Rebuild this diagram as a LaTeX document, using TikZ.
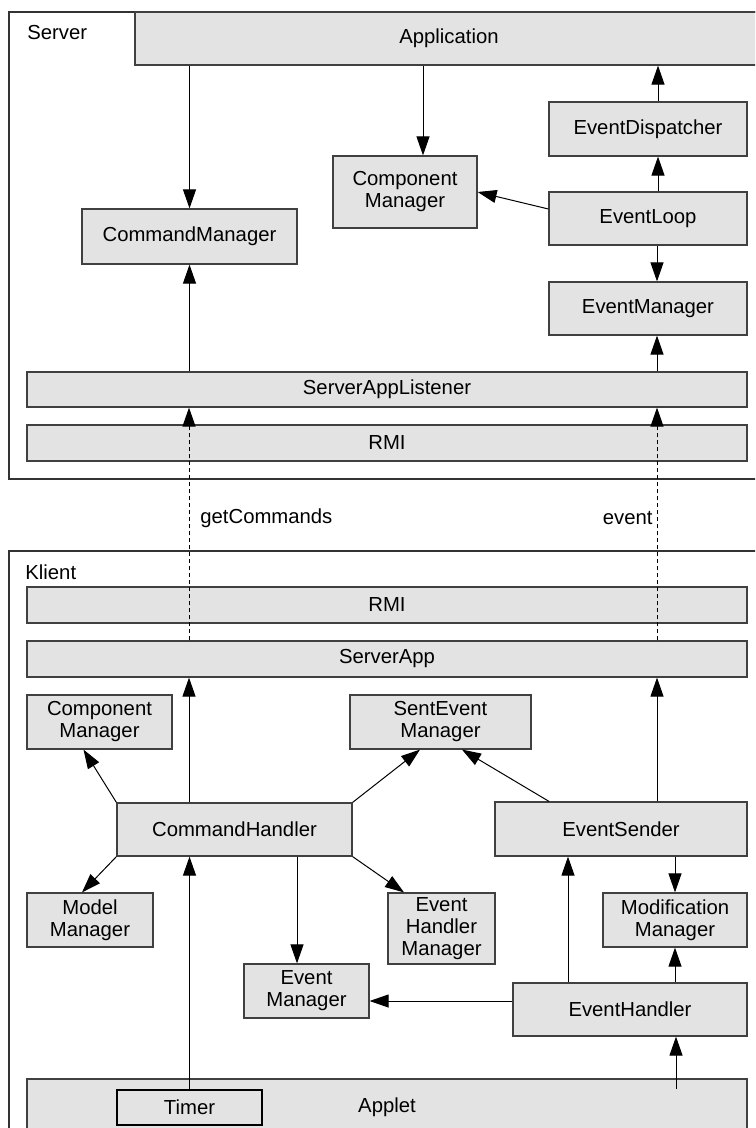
\documentclass[tikz,border=0pt]{standalone}
\usepackage{fontspec}
\setmainfont{Liberation Sans}
\usetikzlibrary{arrows.meta,calc}
\begin{document}
\begin{tikzpicture}[x=0.5pt,y=-0.5pt,
  every node/.style={font=\fontsize{10.15}{11}\selectfont},
  box/.style={draw=black!75,line width=0.6pt,fill=black!11,inner sep=0pt,align=center},
  frame/.style={draw=black!80,line width=0.6pt,fill=white},
  arr/.style={draw=black,line width=0.5pt,-{Triangle[length=9.5pt,width=6.5pt]}},
  dasharr/.style={draw=black,line width=0.5pt,dash pattern=on 2pt off 1.5pt,-{Triangle[length=9.5pt,width=6.5pt]}},
  lbl/.style={inner sep=0pt}]
\useasboundingbox (0,0) rectangle (755,1128);
\clip (0,0) rectangle (755,1128);
% frames
\path[frame] (9,12) rectangle (780,479);
\path[frame] (9,551) rectangle (780,1160);
\node[lbl,anchor=west] (srvlbl) at (27,33) {Server};
\node[lbl,anchor=west] (kllbl) at (25,572) {Klient};
% server boxes
\node[box,minimum width=314pt,minimum height=26.5pt] (app) at (449,38.5) {Application};
\node[box,minimum width=107.5pt,minimum height=27.5pt] (cmS) at (189.5,236.5) {CommandManager};
\node[box,minimum width=72pt,minimum height=36pt] (compS) at (405,192) {Component\\Manager};
\node[box,minimum width=99pt,minimum height=27pt] (disp) at (648,129) {EventDispatcher};
\node[box,minimum width=99pt,minimum height=26.5pt] (loop) at (648,218.5) {EventLoop};
\node[box,minimum width=99pt,minimum height=26.5pt] (emS) at (648,308.5) {EventManager};
\node[box,minimum width=360pt,minimum height=17.5pt] (sal) at (387,389.5) {ServerAppListener};
\node[box,minimum width=360pt,minimum height=18pt] (rmiS) at (387,443) {RMI};
% client boxes
\node[box,minimum width=360pt,minimum height=18pt] (rmiK) at (387,605) {RMI};
\node[box,minimum width=360pt,minimum height=18pt] (sapp) at (387,659) {ServerApp};
\node[box,minimum width=72.5pt,minimum height=27pt] (compK) at (99.5,722) {Component\\Manager};
\node[box,minimum width=90.5pt,minimum height=27pt] (sent) at (440.5,722) {SentEvent\\Manager};
\node[box,minimum width=117.5pt,minimum height=26.5pt] (ch) at (234.5,829.5) {CommandHandler};
\node[box,minimum width=126pt,minimum height=27pt] (es) at (621,829) {EventSender};
\node[box,minimum width=63pt,minimum height=27pt] (model) at (90,920) {Model\\Manager};
\node[box,minimum width=53.5pt,minimum height=35.5pt] (ehm) at (441.5,928.5) {Event\\Handler\\Manager};
\node[box,minimum width=62.5pt,minimum height=27pt] (emK) at (306.5,991) {Event\\Manager};
\node[box,minimum width=72pt,minimum height=27pt] (mod) at (675,920) {Modification\\Manager};
\node[box,minimum width=117pt,minimum height=26.5pt] (eh) at (630,1009.5) {EventHandler};
\path[box] (27,1079) rectangle (747,1170);
\node[lbl] (applet) at (387,1107) {Applet};
\node[box,draw=black,minimum width=72.5pt,minimum height=17.5pt] (timer) at (189.5,1107.5) {Timer};
% helper coordinates
\coordinate (dl) at (189,0);
\coordinate (dr) at (657,0);
\coordinate (appsrc) at (676,1089);
% server arrows
\draw[arr] (cmS.north |- app.south) -- (cmS.north);
\draw[arr] ([xshift=9pt]compS.north |- app.south) -- ([xshift=9pt]compS.north);
\draw[arr] ([xshift=5pt]loop.north) -- ([xshift=5pt]disp.south);
\draw[arr] ([xshift=5pt]disp.north) -- ([xshift=5pt]disp.north |- app.south);
\draw[arr] ([yshift=4.75pt]loop.west) -- (compS.east);
\draw[arr] ([xshift=4.5pt]loop.south) -- ([xshift=4.5pt]emS.north);
\draw[arr] ([xshift=4.5pt]emS.south |- sal.north) -- ([xshift=4.5pt]emS.south);
\draw[arr] (cmS.south |- sal.north) -- (cmS.south);
% remote
\draw[dasharr] (dl |- sapp.north) -- (dl |- sal.south);
\draw[dasharr] (dr |- sapp.north) -- (dr |- sal.south);
\node[lbl,anchor=west] (getc) at (200,518) {getCommands};
\node[lbl,anchor=east] (evt) at (653,518) {event};
% client arrows
\draw[arr] (dl |- ch.north) -- (dl |- sapp.south);
\draw[arr] (ch.north west) -- ([xshift=-8pt]compK.south);
\draw[arr] (ch.north east) -- ([xshift=-10.25pt]sent.south);
\draw[arr] ([xshift=-36pt]es.north) -- ([xshift=10.75pt]sent.south);
\draw[arr] (dr |- es.north) -- (dr |- sapp.south);
\draw[arr] (ch.south west) -- ([xshift=-4pt]model.north);
\draw[arr] ([xshift=-4.75pt]emK.north |- ch.south) -- ([xshift=-4.75pt]emK.north);
\draw[arr] (ch.south east) -- ([xshift=-18.75pt]ehm.north);
\draw[arr] ([xshift=-31pt]eh.north) -- ([xshift=-31pt]eh.north |- es.south);
\draw[arr] (mod.north |- es.south) -- (mod.north);
\draw[arr] (mod.south |- eh.north) -- (mod.south);
\draw[arr] ([yshift=4.25pt]eh.west) -- ([yshift=4.25pt]eh.west -| emK.east);
\draw[arr] (appsrc) -- (appsrc |- eh.south);
\draw[arr] (timer.north) -- (timer.north |- ch.south);
\end{tikzpicture}
\end{document}
